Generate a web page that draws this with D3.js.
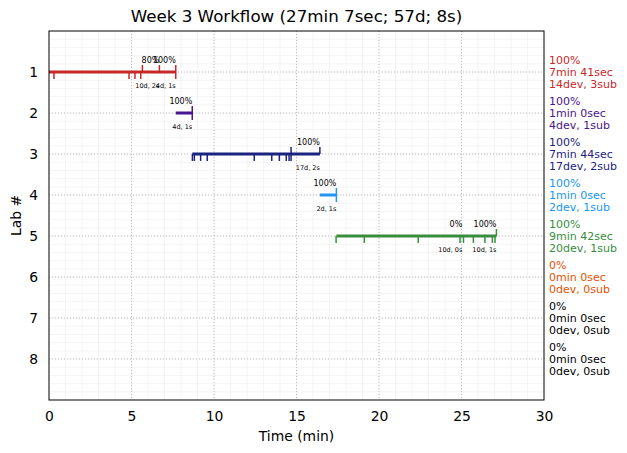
<!DOCTYPE html>
<html>
<head>
<meta charset="utf-8">
<script src="https://cdn.jsdelivr.net/npm/d3@7"></script>
<style>
body { margin: 0; background: #fff; }
text { font-family: "DejaVu Sans", sans-serif; }
</style>
</head>
<body>
<svg class="chart"></svg>
<script>
var labs = [1, 2, 3, 4, 5, 6, 7, 8];
var labColors = ['#c62828', '#4a148c', '#1a237e', '#2196f3', '#388e3c', '#e65100', '#000000', '#000000'];

// active span of each lab (minutes)
var labStart = [0, 7.683, 8.683, 16.417, 17.417];
var labEnd = [7.683, 8.683, 16.417, 17.417, 27.117];

// deploys (down ticks) and submissions (up ticks)
var devTimes = [
	[0.30, 4.85, 5.21, 5.56, 7.683],
	[8.683],
	[8.69, 8.81, 9.19, 9.59, 12.44, 13.5, 13.96, 14.38, 14.55, 14.67],
	[17.417],
	[17.4, 19.11, 22.38, 24.91, 25.12, 25.72, 26.42, 26.87, 27.03]
];
var subTimes = [
	[5.66, 6.69, 7.683],
	[8.683],
	[14.67, 16.417],
	[17.417],
	[27.117]
];

// score checkpoints: time, score, deploys and submissions since last
var checkTimes = [[6.69, 7.683], [8.683], [16.417], [17.417], [25.05, 27.117]];
var checkPct = [['80%', '100%'], ['100%'], ['100%'], ['100%'], ['0%', '100%']];
var checkCounts = [['10d, 2s', '4d, 1s'], ['4d, 1s'], ['17d, 2s'], ['2d, 1s'], ['10d, 0s', '10d, 1s']];

var summaryPct = ['100%', '100%', '100%', '100%', '100%', '0%', '0%', '0%'];
var summaryTime = ['7min 41sec', '1min 0sec', '7min 44sec', '1min 0sec', '9min 42sec', '0min 0sec', '0min 0sec', '0min 0sec'];
var summaryCounts = ['14dev, 3sub', '4dev, 1sub', '17dev, 2sub', '2dev, 1sub', '20dev, 1sub', '0dev, 0sub', '0dev, 0sub', '0dev, 0sub'];

var xTicks = [0, 5, 10, 15, 20, 25, 30];
var chartTitle = 'Week 3 Workflow (27min 7sec; 57d; 8s)';

var margin = {top: 31, right: 83, bottom: 53, left: 49},
	width = 627 - margin.left - margin.right,
	height = 453 - margin.top - margin.bottom;

var svg = d3.select('svg.chart')
	.attr('width', 627)
	.attr('height', 453);

var chart = svg.append('g')
	.attr('transform', 'translate(' + margin.left + ',' + margin.top + ')');

var x = d3.scaleLinear().domain([0, 30]).range([0, width]);
var y = d3.scaleLinear().domain([0, 9]).range([0, height]);

// minor grid
chart.append('g')
	.selectAll('line')
	.data(d3.range(1, 30))
	.enter().append('line')
		.attr('x1', d => x(d)).attr('x2', d => x(d))
		.attr('y1', 0).attr('y2', height)
		.attr('stroke', '#f1f1f1').attr('stroke-width', 0.8);
chart.append('g')
	.selectAll('line')
	.data(d3.range(1, 45).map(d => d / 5))
	.enter().append('line')
		.attr('x1', 0).attr('x2', width)
		.attr('y1', d => y(d)).attr('y2', d => y(d))
		.attr('stroke', '#f1f1f1').attr('stroke-width', 0.8);

// major grid
chart.append('g')
	.selectAll('line')
	.data(xTicks.slice(1, -1))
	.enter().append('line')
		.attr('x1', d => x(d)).attr('x2', d => x(d))
		.attr('y1', 0).attr('y2', height)
		.attr('stroke', '#b0b0b0').attr('stroke-width', 0.8)
		.attr('stroke-dasharray', '1,2');
chart.append('g')
	.selectAll('line')
	.data(labs)
	.enter().append('line')
		.attr('x1', 0).attr('x2', width)
		.attr('y1', d => y(d)).attr('y2', d => y(d))
		.attr('stroke', '#b0b0b0').attr('stroke-width', 0.8)
		.attr('stroke-dasharray', '1,2');

// axes
var xAxis = d3.axisBottom(x).tickValues(xTicks).tickSize(0).tickPadding(11);
var yAxis = d3.axisLeft(y).tickValues(labs).tickSize(0).tickPadding(11);

chart.append('g')
	.attr('transform', 'translate(0,' + height + ')')
	.call(xAxis)
	.call(g => g.select('.domain').remove())
	.selectAll('text').attr('font-size', 13.9).attr('fill', '#000');
chart.append('g')
	.call(yAxis)
	.call(g => g.select('.domain').remove())
	.selectAll('text').attr('font-size', 13.9).attr('fill', '#000');

var tk = 0.17;

labStart.forEach(function(start, i) {
	var lab = labs[i], col = labColors[i];
	var g = chart.append('g');

	g.append('line')
		.attr('x1', x(start)).attr('x2', x(labEnd[i]))
		.attr('y1', y(lab)).attr('y2', y(lab))
		.attr('stroke', col).attr('stroke-width', 3);

	g.selectAll('.dev')
		.data(devTimes[i])
		.enter().append('line')
			.attr('x1', d => x(d)).attr('x2', d => x(d))
			.attr('y1', y(lab)).attr('y2', y(lab + tk))
			.attr('stroke', col).attr('stroke-width', 1.5);

	g.selectAll('.sub')
		.data(subTimes[i])
		.enter().append('line')
			.attr('x1', d => x(d)).attr('x2', d => x(d))
			.attr('y1', y(lab - tk)).attr('y2', y(lab))
			.attr('stroke', col).attr('stroke-width', 1.5);

	checkTimes[i].forEach(function(t, j) {
		g.append('text')
			.attr('x', x(t)).attr('y', y(lab) - 9)
			.attr('text-anchor', 'end')
			.attr('font-size', 8)
			.text(checkPct[i][j]);
		g.append('text')
			.attr('x', x(t)).attr('y', y(lab) + 16)
			.attr('text-anchor', 'end')
			.attr('font-size', 6.5)
			.text(checkCounts[i][j]);
	});
});

// frame
chart.append('rect')
	.attr('width', width).attr('height', height)
	.attr('fill', 'none').attr('stroke', '#000').attr('stroke-width', 1);

// per-lab summary on the right
labs.forEach(function(lab, i) {
	var t = chart.append('text')
		.attr('x', width + 5)
		.attr('y', y(lab) - 8)
		.attr('font-size', 11)
		.attr('fill', labColors[i]);
	[summaryPct[i], summaryTime[i], summaryCounts[i]].forEach(function(s, k) {
		t.append('tspan').attr('x', width + 5).attr('dy', k === 0 ? 0 : 12).text(s);
	});
});

svg.append('text')
	.attr('x', margin.left + width / 2).attr('y', 22)
	.attr('text-anchor', 'middle')
	.attr('font-size', 16.7)
	.text(chartTitle);

svg.append('text')
	.attr('x', margin.left + width / 2).attr('y', 441)
	.attr('text-anchor', 'middle')
	.attr('font-size', 13.9)
	.text('Time (min)');

svg.append('text')
	.attr('transform', 'translate(21,' + (margin.top + height / 2) + ') rotate(-90)')
	.attr('text-anchor', 'middle')
	.attr('font-size', 13.9)
	.text('Lab #');
</script>
</body>
</html>
